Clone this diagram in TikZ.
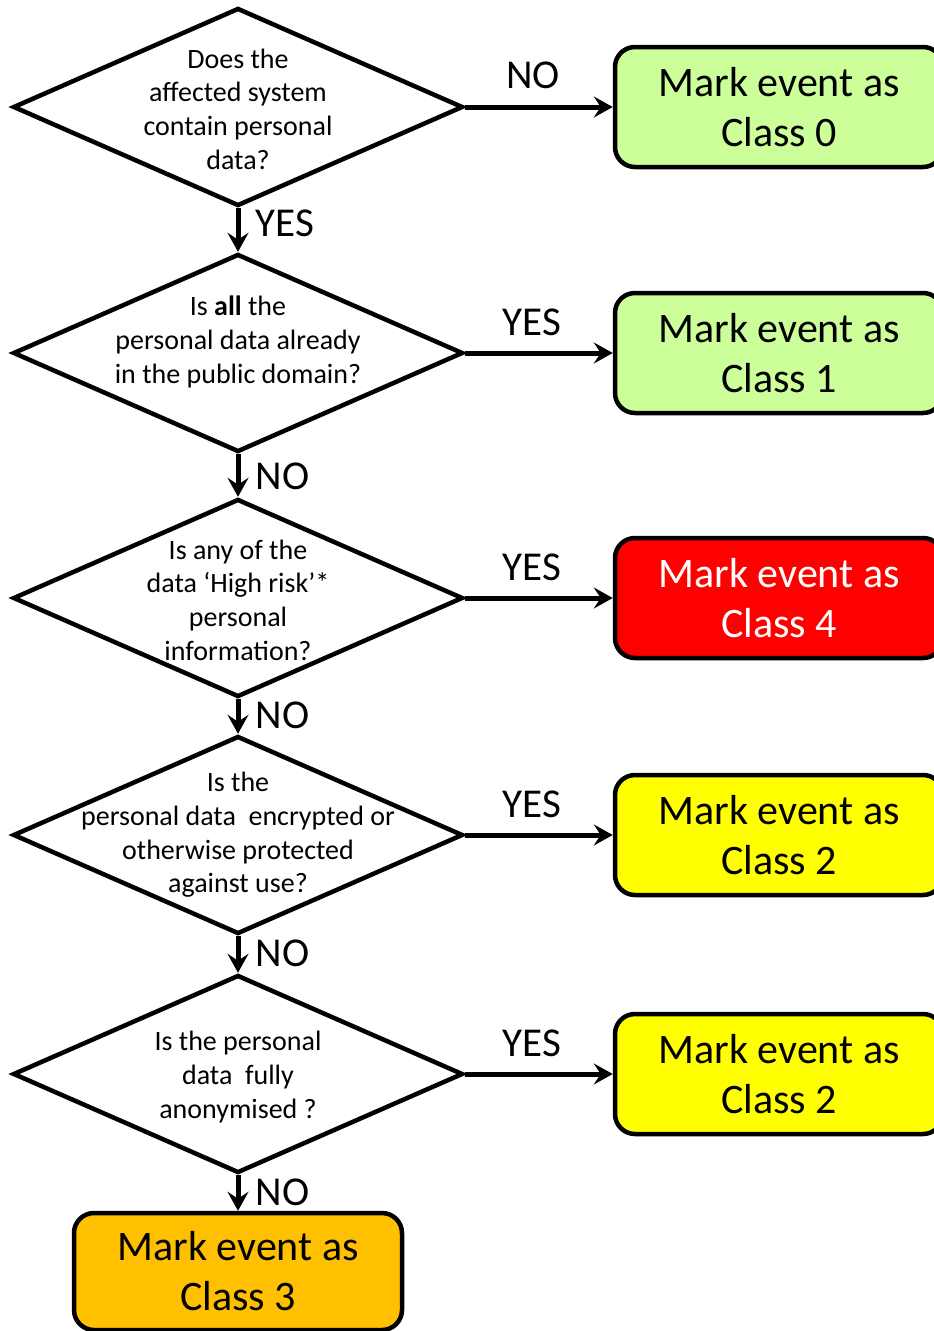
\documentclass[tikz,border=0pt]{standalone}
\usepackage{fontspec}
\setmainfont{Carlito}
\usetikzlibrary{shapes.geometric,arrows.meta}
\definecolor{lgreen}{HTML}{CCFF99}
\definecolor{cred}{HTML}{FF0000}
\definecolor{cyellow}{HTML}{FFFF00}
\definecolor{corange}{HTML}{FFC000}
\tikzset{
  decision/.style={draw=black, line width=4.5pt, shape=diamond, minimum width=450pt, minimum height=198pt, inner sep=0pt, fill=white},
  qtext/.style={align=center, font=\fontsize{28}{33.7}\selectfont, inner sep=0pt},
  outcome/.style={draw=black, line width=4.5pt, rounded corners=20pt, minimum width=328pt, minimum height=120pt, align=center, font=\fontsize{42}{50}\selectfont, inner sep=0pt},
  arr/.style={line width=5pt, -{Stealth[length=19pt,width=21pt,inset=7pt]}},
  lbl/.style={font=\fontsize{41}{46}\selectfont}
}
\begin{document}
\begin{tikzpicture}[x=1pt,y=-1pt]
\useasboundingbox[fill=white] (0,0) rectangle (934,1331);
% decisions
\node[decision] (d1) at (238,107) {};
\node[decision] (d2) at (238,353) {};
\node[decision] (d3) at (238,598) {};
\node[decision] (d4) at (238,835) {};
\node[decision] (d5) at (238,1074) {};
\node[qtext] (t1) at (238,109) {Does the\\affected system\\contain personal\\data?};
\node[qtext] (t2) at (238,342) {Is \textbf{all} the\\personal data already\\in the public domain?};
\node[qtext] (t3) at (238,600) {Is any of the\\data ‘High risk’*\\personal\\information?};
\node[qtext] (t4) at (238,835) {Is the\\personal data\ \ encrypted or\\otherwise protected\\against use?};
\node[qtext] (t5) at (238,1077) {Is the personal\\data\ \ fully\\anonymised ?};
% outcomes
\node[outcome, fill=lgreen] (c0) at (779,107) {Mark event as\\Class 0};
\node[outcome, fill=lgreen] (c1) at (779,353) {Mark event as\\Class 1};
\node[outcome, fill=cred, text=white] (c4) at (779,598) {Mark event as\\Class 4};
\node[outcome, fill=cyellow] (c2a) at (779,835) {Mark event as\\Class 2};
\node[outcome, fill=cyellow] (c2b) at (779,1074) {Mark event as\\Class 2};
\node[outcome, fill=corange, minimum height=117pt] (c3) at (238,1271.5) {Mark event as\\Class 3};
% connectors
\draw[arr] (d1.east) -- node[lbl, above, pos=0.46, yshift=12pt] {NO} (c0.west);
\draw[arr] (d2.east) -- node[lbl, above, pos=0.45, yshift=11pt] {YES} (c1.west);
\draw[arr] (d3.east) -- node[lbl, above, pos=0.45, yshift=11pt] {YES} (c4.west);
\draw[arr] (d4.east) -- node[lbl, above, pos=0.45, yshift=11pt] {YES} (c2a.west);
\draw[arr] (d5.east) -- node[lbl, above, pos=0.45, yshift=11pt] {YES} (c2b.west);
\draw[arr] (d1.south) -- node[lbl, right, pos=0.35, xshift=12pt] {YES} (d2.north);
\draw[arr] (d2.south) -- node[lbl, right, pos=0.52, xshift=12pt] {NO} (d3.north);
\draw[arr] (d3.south) -- node[lbl, right, pos=0.47, xshift=12pt] {NO} (d4.north);
\draw[arr] (d4.south) -- node[lbl, right, pos=0.47, xshift=12pt] {NO} (d5.north);
\draw[arr] (d5.south) -- node[lbl, right, pos=0.47, xshift=12pt] {NO} (c3.north);
\end{tikzpicture}
\end{document}
